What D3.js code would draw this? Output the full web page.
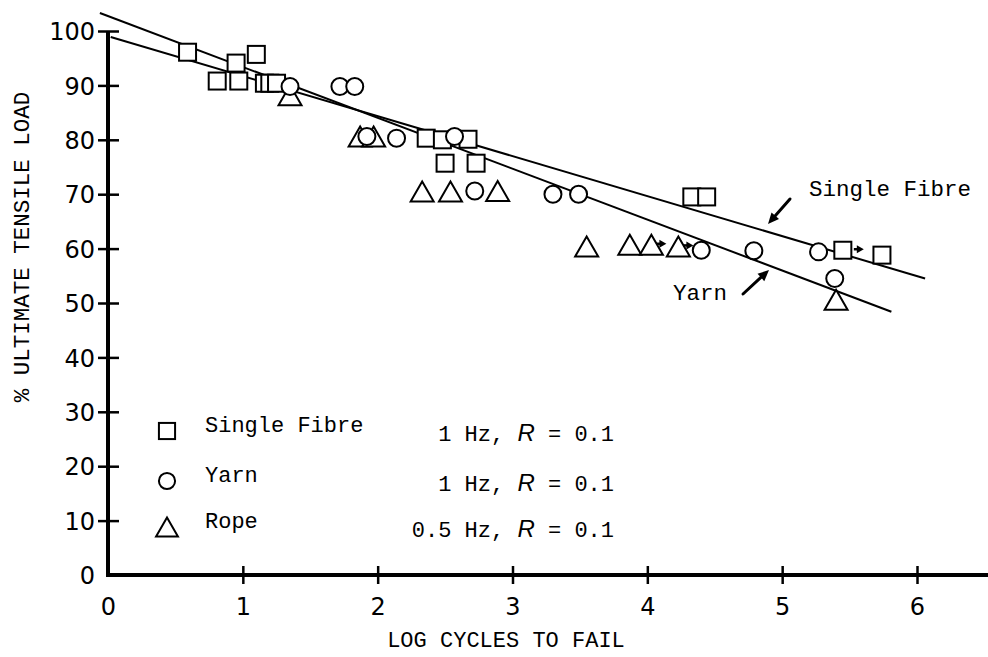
<!DOCTYPE html>
<html>
<head>
<meta charset="utf-8">
<script src="https://cdn.jsdelivr.net/npm/d3@7"></script>
<style>
  body { margin: 0; background: #fff; }
  svg { display: block; }
</style>
</head>
<body>
<svg id="chart" width="988" height="657"></svg>
<script>
// Fatigue data: [log cycles to fail, % ultimate tensile load]
const xTicks = [0, 1, 2, 3, 4, 5, 6];
const yTicks = [0, 10, 20, 30, 40, 50, 60, 70, 80, 90, 100];

const singleFibre = [
  [0.59, 96.1], [0.81, 90.8], [0.95, 94.1], [0.97, 90.8], [1.10, 95.7],
  [1.16, 90.4], [1.20, 90.4], [1.25, 90.4],
  [2.36, 80.3], [2.48, 80.0], [2.67, 80.1], [2.50, 75.7], [2.73, 75.7],
  [4.33, 69.5], [4.44, 69.5], [5.45, 59.7], [5.74, 58.8]
];
const yarn = [
  [1.35, 89.8], [1.72, 89.8], [1.83, 89.8], [1.92, 80.6], [2.14, 80.3],
  [2.57, 80.6], [2.72, 70.6], [3.30, 70.0], [3.49, 70.0],
  [4.40, 59.7], [4.79, 59.6], [5.27, 59.4], [5.39, 54.5]
];
const rope = [
  [1.35, 88.2], [1.87, 80.6], [1.97, 80.6], [2.33, 70.5], [2.54, 70.5],
  [2.89, 70.6], [3.55, 60.4], [3.87, 60.7], [4.03, 60.7], [4.23, 60.4],
  [5.40, 50.6]
];
// specimens that had not failed (run-outs)
const fibreRunouts = [[5.45, 59.7]];
const ropeRunouts = [[4.03, 60.7], [4.23, 60.4]];

// fitted S-N lines, end points
const fibreFit = [[0.02, 98.9], [6.06, 54.5]];
const yarnFit = [[-0.06, 103.3], [5.81, 48.4]];

const legendRows = [
  { kind: "square",   name: "Single Fibre", freq: "1 Hz, ",   r: " = 0.1" },
  { kind: "circle",   name: "Yarn",         freq: "1 Hz, ",   r: " = 0.1" },
  { kind: "triangle", name: "Rope",         freq: "0.5 Hz, ", r: " = 0.1" }
];

const W = 988, H = 657;
const svg = d3.select("#chart");
const x = d3.scaleLinear().domain([0, 6]).range([108, 917]);
const y = d3.scaleLinear().domain([0, 100]).range([575, 31]);

const MONO = "'Liberation Mono', 'DejaVu Sans Mono', monospace";
const SANS = "'DejaVu Sans', sans-serif";

// ---- axes ----
const gx = svg.append("g").attr("transform", `translate(0,${y(0)})`)
  .call(d3.axisBottom(x).tickValues(xTicks).tickSize(9).tickPadding(14)
    .tickFormat(d3.format("d")));
gx.select(".domain").remove();
gx.selectAll(".tick line").attr("y1", -9).attr("y2", 9)
  .attr("stroke", "#000").attr("stroke-width", 2.5);
gx.selectAll(".tick text").attr("font-family", SANS).attr("font-size", 24)
  .attr("fill", "#000");
gx.selectAll(".tick").filter(d => d === 0).select("line").remove();

const gy = svg.append("g").attr("transform", `translate(${x(0)},0)`)
  .call(d3.axisLeft(y).tickValues(yTicks).tickSize(10).tickPadding(3));
gy.select(".domain").remove();
gy.selectAll(".tick line").attr("x1", -10).attr("x2", 11)
  .attr("stroke", "#000").attr("stroke-width", 2.5);
gy.selectAll(".tick text").attr("font-family", SANS).attr("font-size", 24)
  .attr("fill", "#000").attr("dy", "0.36em");
gy.selectAll(".tick").filter(d => d === 0).select("line").remove();

// axis lines
svg.append("line").attr("x1", x(0)).attr("x2", W).attr("y1", y(0)).attr("y2", y(0))
  .attr("stroke", "#000").attr("stroke-width", 4);
svg.append("line").attr("x1", x(0)).attr("x2", x(0)).attr("y1", y(0) + 2).attr("y2", y(100))
  .attr("stroke", "#000").attr("stroke-width", 4);

// axis titles
svg.append("text").attr("x", 506).attr("y", 647).attr("text-anchor", "middle")
  .attr("font-family", MONO).attr("font-size", 22).text("LOG CYCLES TO FAIL");
svg.append("text").attr("transform", "translate(29,247) rotate(-90)")
  .attr("text-anchor", "middle").attr("font-family", MONO).attr("font-size", 22.5)
  .text("% ULTIMATE TENSILE LOAD");

// ---- fitted lines ----
const line = d3.line().x(d => x(d[0])).y(d => y(d[1]));
[fibreFit, yarnFit].forEach(f => {
  svg.append("path").attr("d", line(f)).attr("fill", "none")
    .attr("stroke", "#000").attr("stroke-width", 2);
});

// ---- markers ----
const marks = svg.append("g").attr("fill", "none").attr("stroke", "#000").attr("stroke-width", 2);
const tri = (w, h) => `M0,${-h / 2}L${w / 2},${h / 2}L${-w / 2},${h / 2}Z`;

function drawMarker(g, kind, cx, cy, s) {
  if (kind === "square") {
    g.append("rect").attr("x", cx - 8.5 * s).attr("y", cy - 8.5 * s)
      .attr("width", 17 * s).attr("height", 17 * s).attr("fill", "#fff");
  } else if (kind === "circle") {
    g.append("circle").attr("cx", cx).attr("cy", cy).attr("r", 8.5 * s).attr("fill", "#fff");
  } else {
    g.append("path").attr("d", tri(23 * s, 20 * s))
      .attr("transform", `translate(${cx},${cy})`).attr("fill", "#fff");
  }
}

singleFibre.forEach(d => drawMarker(marks, "square", x(d[0]), y(d[1]), 1));
rope.forEach(d => drawMarker(marks, "triangle", x(d[0]), y(d[1]), 1));
yarn.forEach(d => drawMarker(marks, "circle", x(d[0]), y(d[1]), 1));

// run-out arrows to the right of the marker
function runout(d, gap) {
  const cx = x(d[0]) + gap, cy = y(d[1]) - 1;
  svg.append("path")
    .attr("d", `M${cx},${cy}L${cx + 4},${cy}`)
    .attr("stroke", "#000").attr("stroke-width", 2.5);
  svg.append("path")
    .attr("d", `M${cx + 3},${cy - 4}L${cx + 10},${cy}L${cx + 3},${cy + 4}Z`)
    .attr("fill", "#000");
}
fibreRunouts.forEach(d => runout(d, 11));
ropeRunouts.forEach(d => runout(d, 5));

// ---- line annotations ----
svg.append("text").attr("x", 809).attr("y", 196).attr("font-family", MONO)
  .attr("font-size", 22.5).text("Single Fibre");
svg.append("text").attr("x", 673).attr("y", 300).attr("font-family", MONO)
  .attr("font-size", 22.5).text("Yarn");

function arrow(x1, y1, x2, y2) {
  const a = Math.atan2(y2 - y1, x2 - x1), L = 11, Wd = 5;
  const bx = x2 - L * Math.cos(a), by = y2 - L * Math.sin(a);
  svg.append("line").attr("x1", x1).attr("y1", y1).attr("x2", bx).attr("y2", by)
    .attr("stroke", "#000").attr("stroke-width", 3).attr("stroke-linecap", "round");
  svg.append("path").attr("d",
    `M${x2},${y2}L${bx + Wd * Math.sin(a)},${by - Wd * Math.cos(a)}L${bx - Wd * Math.sin(a)},${by + Wd * Math.cos(a)}Z`)
    .attr("fill", "#000");
}
arrow(790, 199, 768, 224);
arrow(743, 294, 769, 270);

// ---- legend ----
const leg = svg.append("g");
const legMarks = leg.append("g").attr("fill", "none").attr("stroke", "#000").attr("stroke-width", 2);
const rowY = [431, 481, 527];
legendRows.forEach((r, i) => {
  drawMarker(legMarks, r.kind, 167, rowY[i], 0.95);
  leg.append("text").attr("x", 205).attr("y", rowY[i] + 1).attr("font-family", MONO)
    .attr("font-size", 22).text(r.name);
  const t = leg.append("text").attr("x", 614).attr("y", rowY[i] + 10)
    .attr("text-anchor", "end").attr("font-family", MONO).attr("font-size", 22);
  t.append("tspan").text(r.freq);
  t.append("tspan").attr("font-family", "'Liberation Sans', sans-serif")
    .attr("font-style", "italic").attr("font-size", 24).text("R");
  t.append("tspan").text(r.r);
});
</script>
</body>
</html>
